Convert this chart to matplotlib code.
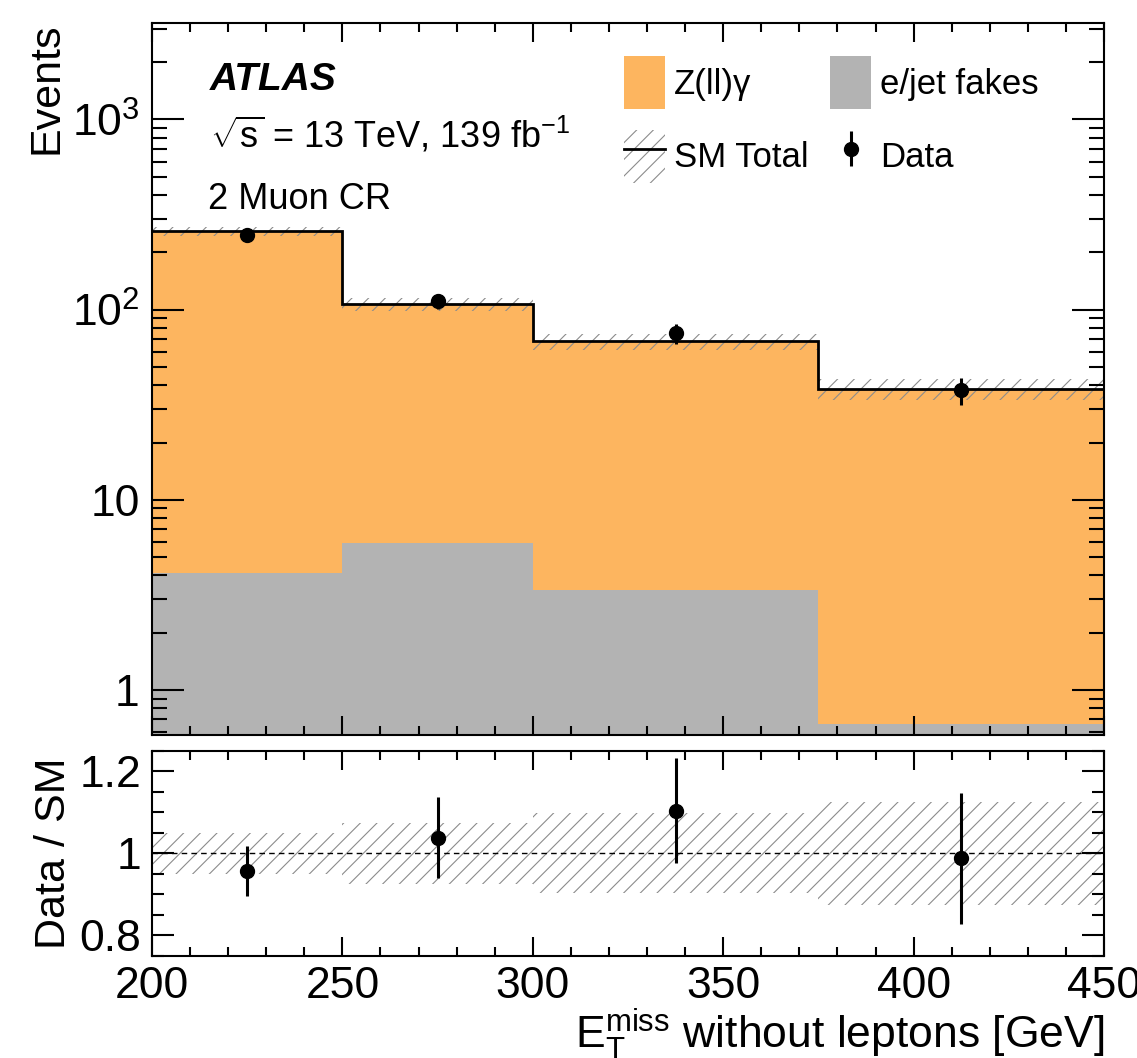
import numpy as np
import matplotlib
matplotlib.use("Agg")
import matplotlib.pyplot as plt
from matplotlib.patches import Patch
from matplotlib.lines import Line2D
from matplotlib.ticker import MultipleLocator, LogLocator, FuncFormatter, NullFormatter

# bins in E_T^miss [GeV]
bin_edges = [200, 250, 300, 375, 450]
# stacked backgrounds
zllg = [254.0, 101.0, 64.6, 37.5]
fakes = [4.1, 5.9, 3.36, 0.66]
# relative uncertainty on SM total
sm_rel_unc = [0.05, 0.075, 0.097, 0.125]
# data
data = [247, 111, 75, 37.7]
data_err = [15.7, 10.5, 8.7, 6.1]

plt.rcParams['font.family'] = ['Liberation Sans', 'DejaVu Sans']
plt.rcParams['mathtext.fontset'] = 'custom'
plt.rcParams['mathtext.rm'] = 'Liberation Sans'
plt.rcParams['mathtext.it'] = 'Liberation Sans:italic'
plt.rcParams['mathtext.bf'] = 'Liberation Sans:bold'
plt.rcParams['hatch.linewidth'] = 0.8
plt.rcParams['axes.linewidth'] = 1.5

orange = '#fdb55f'
grey = '#b3b3b3'
hatch_col = '#8c8c8c'

edges = np.array(bin_edges, dtype=float)
centers = (edges[:-1] + edges[1:]) / 2
zllg = np.array(zllg)
fakes = np.array(fakes)
total = zllg + fakes
unc = np.array(sm_rel_unc)
data = np.array(data, dtype=float)
data_err = np.array(data_err)

fig = plt.figure(figsize=(11.37, 10.58), dpi=100)
ax = fig.add_axes([0.1337, 0.3053, 0.8373, 0.6734])
rax = fig.add_axes([0.1337, 0.0964, 0.8373, 0.1941])

# main panel
ax.stairs(total, edges, baseline=1e-3, fill=True, color=orange, lw=0)
ax.stairs(fakes, edges, baseline=1e-3, fill=True, color=grey, lw=0)
ax.stairs(total * (1 + unc), edges, baseline=total * (1 - unc), fill=True,
          facecolor='none', edgecolor=hatch_col, hatch='//', lw=0)
ax.stairs(total, edges, baseline=None, color='k', lw=2)
dat = ax.errorbar(centers, data, yerr=data_err, fmt='o', color='k', ms=10,
                  elinewidth=2.2, capsize=0)

ax.set_yscale('log')
ax.set_xlim(200, 450)
ax.set_ylim(0.58, 3230)
ax.set_ylabel('Events', fontsize=31, loc='top', labelpad=4)

ax.xaxis.set_major_locator(MultipleLocator(50))
ax.xaxis.set_minor_locator(MultipleLocator(10))
ax.yaxis.set_major_locator(LogLocator(base=10))
ax.yaxis.set_minor_locator(LogLocator(base=10, subs=np.arange(2, 10)))
ax.yaxis.set_minor_formatter(NullFormatter())


def log_fmt(v, pos):
    e = int(round(np.log10(v)))
    if e == 0:
        return '1'
    if e == 1:
        return '10'
    return '$10^{%d}$' % e


ax.yaxis.set_major_formatter(FuncFormatter(log_fmt))
ax.tick_params(which='both', direction='in', top=True, right=True, width=1.5,
               labelsize=32, labelbottom=False)
ax.tick_params(axis='x', which='major', length=13.5)
ax.tick_params(axis='x', which='minor', length=6.5)
ax.tick_params(axis='y', which='major', length=23, pad=9)
ax.tick_params(axis='y', which='minor', length=11)

ax.text(0.061, 0.905, 'ATLAS', transform=ax.transAxes, fontsize=28,
        fontweight='bold', fontstyle='italic', va='baseline')
ax.text(0.061, 0.824, r'$\sqrt{\mathrm{s}}$ = 13 TeV, 139 fb$^{-1}$',
        transform=ax.transAxes, fontsize=26, va='baseline')
ax.text(0.059, 0.738, '2 Muon CR', transform=ax.transAxes, fontsize=26,
        va='baseline')

h_z = Patch(facecolor=orange, edgecolor='none')
h_f = Patch(facecolor=grey, edgecolor='none')
h_sm = (Patch(facecolor='none', edgecolor=hatch_col, hatch='//', lw=0),
        Line2D([], [], color='k', lw=2))
ax.legend([h_z, h_sm, h_f, dat], ['Z(ll)γ', 'SM Total', 'e/jet fakes', 'Data'],
          ncol=2, loc='upper left', bbox_to_anchor=(0.496, 0.953), frameon=False,
          fontsize=25, handlelength=1.18, handleheight=1.97, handletextpad=0.25,
          columnspacing=0.63, labelspacing=0.6, borderpad=0, borderaxespad=0)

# ratio panel
ratio = data / total
ratio_err = data_err / total
rax.stairs(1 + unc, edges, baseline=1 - unc, fill=True, facecolor='none',
           edgecolor=hatch_col, hatch='//', lw=0)
rax.axhline(1, color='k', ls=(0, (4, 3)), lw=1)
rax.errorbar(centers, ratio, yerr=ratio_err, fmt='o', color='k', ms=10,
             elinewidth=2.2, capsize=0)
rax.set_xlim(200, 450)
rax.set_ylim(0.75, 1.25)
rax.xaxis.set_major_locator(MultipleLocator(50))
rax.xaxis.set_minor_locator(MultipleLocator(10))
rax.yaxis.set_major_locator(MultipleLocator(0.2))
rax.yaxis.set_minor_locator(MultipleLocator(0.05))
rax.yaxis.set_major_formatter(FuncFormatter(lambda v, p: '%g' % round(v, 2)))
rax.tick_params(which='both', direction='in', top=True, right=True, width=1.5,
                labelsize=32)
rax.tick_params(axis='x', which='major', length=13.5, pad=7)
rax.tick_params(axis='x', which='minor', length=6.5)
rax.tick_params(axis='y', which='major', length=16, pad=8)
rax.tick_params(axis='y', which='minor', length=8.5)
rax.set_ylabel('Data / SM', fontsize=31, labelpad=4)
rax.set_xlabel(r'$\mathrm{E}_{\mathrm{T}}^{\mathrm{miss}}$ without leptons [GeV]',
               fontsize=32, loc='right', labelpad=0)

fig.savefig('out.png', dpi=100)
